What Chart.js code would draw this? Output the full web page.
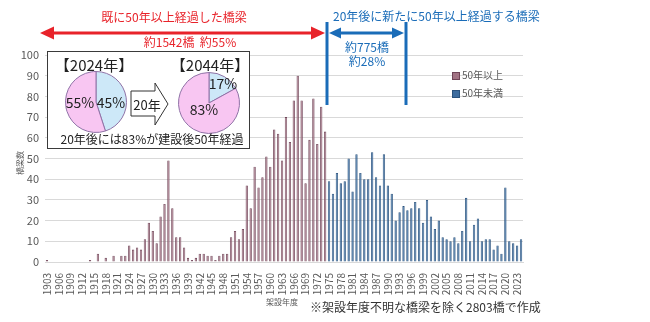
<!DOCTYPE html>
<html>
<head>
<meta charset="utf-8">
<script src="https://cdn.jsdelivr.net/npm/chart.js@4.4.1/dist/chart.umd.min.js"></script>
<style>
body { margin:0; background:#fff; font-family:"Noto Sans CJK JP", sans-serif; }
#wrap { position:relative; width:650px; height:322px; overflow:hidden; }
#chart { position:absolute; left:0; top:0; }
.t { position:absolute; white-space:nowrap; line-height:1; }
.c { transform:translate(-50%, -50%); }
#box { position:absolute; left:47px; top:51px; width:201px; height:96px; border:1px solid #3a3a3a; background:#fff; }
.pie { position:absolute; }
</style>
</head>
<body>
<div id="wrap">
<canvas id="chart" width="650" height="322"></canvas>

<svg width="650" height="322" style="position:absolute;left:0;top:0">
  <!-- red arrow -->
  <line x1="52" y1="33" x2="312" y2="33" stroke="#e8232a" stroke-width="3"/>
  <polygon points="40,33 54,26.5 54,39.5" fill="#e8232a"/>
  <polygon points="325,33 311,26.5 311,39.5" fill="#e8232a"/>
  <!-- blue arrow -->
  <line x1="327" y1="22" x2="327" y2="105" stroke="#1a6cb8" stroke-width="3"/>
  <line x1="406" y1="22" x2="406" y2="105" stroke="#1a6cb8" stroke-width="3"/>
  <line x1="338" y1="33" x2="395" y2="33" stroke="#1a6cb8" stroke-width="3"/>
  <polygon points="329,33 341,27.5 341,38.5" fill="#1a6cb8"/>
  <polygon points="404,33 392,27.5 392,38.5" fill="#1a6cb8"/>
</svg>

<div class="t c" style="left:174px;top:17px;font-size:12px;color:#e8232a">既に50年以上経過した橋梁</div>
<div class="t c" style="left:190px;top:42px;font-size:12px;color:#e8232a">約1542橋&nbsp;&nbsp;約55%</div>
<div class="t" style="left:333px;top:10px;font-size:12px;color:#1a6cb8">20年後に新たに50年以上経過する橋梁</div>
<div class="t c" style="left:367px;top:47px;font-size:12px;color:#1a6cb8">約775橋</div>
<div class="t c" style="left:367px;top:61px;font-size:12px;color:#1a6cb8">約28%</div>

<div id="box"></div>
<div class="t c" style="left:94px;top:64px;font-size:15px;color:#222">【2024年】</div>
<div class="t c" style="left:210px;top:64px;font-size:15px;color:#222">【2044年】</div>
<canvas id="pie1" class="pie" width="64" height="64" style="left:64px;top:70px"></canvas>
<canvas id="pie2" class="pie" width="64" height="64" style="left:177px;top:71px"></canvas>
<div class="t c" style="left:80px;top:102px;font-size:14px;color:#222">55%</div>
<div class="t c" style="left:111px;top:102px;font-size:14px;color:#222">45%</div>
<div class="t c" style="left:223px;top:83px;font-size:14px;color:#222">17%</div>
<div class="t c" style="left:204px;top:109px;font-size:14px;color:#222">83%</div>
<svg width="650" height="322" style="position:absolute;left:0;top:0">
  <polygon points="131,91 155,91 155,83 168,104 155,125 155,116 131,116" fill="#fff" stroke="#333" stroke-width="1"/>
</svg>
<div class="t c" style="left:147px;top:104px;font-size:13px;color:#222">20年</div>
<div class="t c" style="left:152px;top:139px;font-size:12px;color:#222">20年後には83%が建設後50年経過</div>

<!-- legend -->
<div style="position:absolute;left:452px;top:72px;width:6px;height:6px;background:#a27384;border:1px solid #6f4457"></div>
<div class="t" style="left:462px;top:70px;font-size:10px;color:#595959">50年以上</div>
<div style="position:absolute;left:452px;top:90px;width:6px;height:6px;background:#3d6c9e;border:1px solid #2a527d"></div>
<div class="t" style="left:462px;top:88px;font-size:10px;color:#595959">50年未満</div>

<div class="t" style="left:8px;top:163px;font-size:8px;color:#595959;transform:translate(0,-50%) rotate(-90deg)">橋梁数</div>
<div class="t c" style="left:282px;top:302px;font-size:8px;color:#595959">架設年度</div>
<div class="t" style="left:310px;top:301px;font-size:12px;color:#333">※架設年度不明な橋梁を除く2803橋で作成</div>
</div>

<script>
const firstYear = 1903;
const lastYear = 2024;
const years = [];
for (let y = firstYear; y <= lastYear; y++) years.push(y);

// 1903-1974 (50年以上)
const over50 = [
  1, 0, 0, 0, 0, 0, 0, 0, 0, 0, 0,
  1, 0, 4, 0, 2, 0, 3, 0, 3, 3,
  8, 6, 7, 6, 11, 19, 15, 9, 22, 28, 49, 26, 12, 12,
  7, 2, 1, 2, 4, 4, 3, 3, 1, 3, 4, 4,
  12, 15, 11, 16, 37, 26, 46, 36, 41, 51, 46, 64, 62, 49, 70, 58, 78, 90, 78, 38, 59, 79, 57, 75, 63
];
// 1975-2024 (50年未満)
const under50 = [
  39, 33, 43, 38, 39, 50, 34, 52, 43, 40, 40, 53, 41, 37, 52, 37, 33, 20, 24, 27,
  25, 26, 29, 26, 19, 30, 22, 16, 20, 12,
  11, 10, 12, 9, 15, 31, 10, 18, 21, 10,
  11, 11, 6, 8, 4, 36, 10, 9, 8, 11
];
const pie2024 = [45, 55];
const pie2044 = [17, 83];

const font = "'Noto Sans CJK JP', sans-serif";

const overData = years.map((y, i) => i < over50.length ? over50[i] : null);
const underData = years.map((y, i) => i >= over50.length ? under50[i - over50.length] : null);

new Chart(document.getElementById('chart'), {
  type: 'bar',
  data: {
    labels: years,
    datasets: [
      { label: '50年以上', data: overData, backgroundColor: '#a27384', borderColor: '#6f4457', borderWidth: 0.8 },
      { label: '50年未満', data: underData, backgroundColor: '#3d6c9e', borderColor: '#2a527d', borderWidth: 0.8 }
    ]
  },
  options: {
    responsive: false,
    animation: false,
    layout: { padding: { top: 55, right: 127, left: 0, bottom: 0 } },
    plugins: { legend: { display: false }, tooltip: { enabled: false } },
    datasets: { bar: { barPercentage: 0.6, categoryPercentage: 1, grouped: false } },
    scales: {
      x: {
        grid: { display: false },
        border: { color: '#d9d9d9' },
        ticks: {
          autoSkip: false, maxRotation: 90, minRotation: 90, padding: 3,
          color: '#595959', font: { size: 10, family: font },
          callback: function (v, i) {
            const y = years[i];
            return (y - firstYear) % 3 === 0 ? String(y) : '';
          }
        },
        afterFit: s => { s.height = 60; }
      },
      y: {
        min: 0, max: 100,
        ticks: { stepSize: 10, color: '#595959', font: { size: 11, family: font }, padding: 6 },
        grid: { color: '#d9d9d9', drawTicks: false },
        border: { display: false },
        afterFit: s => { s.width = 45; }
      }
    }
  }
});

function smallPie(id, values) {
  new Chart(document.getElementById(id), {
    type: 'pie',
    data: {
      labels: ['50年未満', '50年以上'],
      datasets: [{ data: values, backgroundColor: ['#cde8f8', '#f8c6f2'], borderColor: '#8f72a6', borderWidth: 1 }]
    },
    options: {
      responsive: false, animation: false,
      layout: { padding: 1 },
      plugins: { legend: { display: false }, tooltip: { enabled: false } }
    }
  });
}
smallPie('pie1', pie2024);
smallPie('pie2', pie2044);
</script>
</body>
</html>
